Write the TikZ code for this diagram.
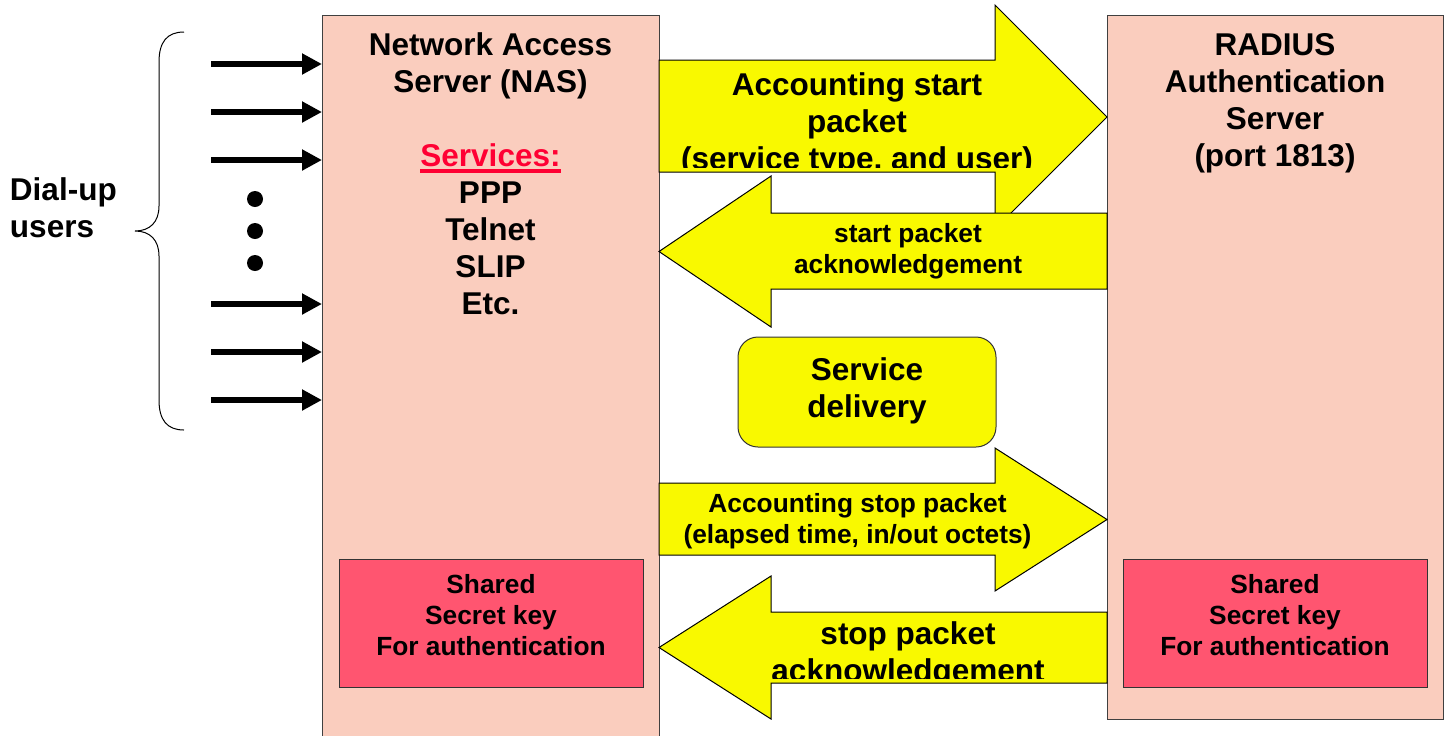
\documentclass[tikz,border=0pt]{standalone}
\usepackage{fontspec}
\setmainfont{Liberation Sans}
\usetikzlibrary{arrows.meta}

\definecolor{serverfill}{HTML}{FACDBE}
\definecolor{keyfill}{HTML}{FF5570}
\definecolor{pktyellow}{HTML}{F9F900}
\definecolor{svcred}{HTML}{FF0033}

\newcommand\bigtext{\bfseries\fontsize{15.75}{18.5}\selectfont}
\newcommand\smalltext{\bfseries\fontsize{13.15}{15.5}\selectfont}
% heavy underline used for the services heading
\newcommand\thickunder[1]{\setbox0\hbox{#1}\rlap{\usebox0}\rule[-3.4pt]{\wd0}{1.7pt}}

\begin{document}
\begin{tikzpicture}[x=0.5pt,y=-0.5pt,
  txt/.style={align=center,inner sep=0pt,outer sep=0pt},
  bigtxt/.style={txt,font=\bigtext},
  smalltxt/.style={txt,font=\smalltext},
  server/.style={draw=black!75,fill=serverfill,line width=0.5pt,anchor=north west,inner sep=0pt,outer sep=0pt},
  keybox/.style={draw=black!80,fill=keyfill,line width=0.5pt,anchor=north west,inner sep=0pt,outer sep=0pt,
                 minimum width=152pt,minimum height=64pt},
  svcbox/.style={draw=black!80,fill=pktyellow,line width=0.5pt,rounded corners=10pt,
                 minimum width=129pt,minimum height=55pt},
  pkt/.style={draw=black,fill=pktyellow,line width=0.5pt,line join=miter},
  usr/.style={line width=2.6pt,-{Triangle[length=10pt,width=10pt]}},
  dot/.style={circle,fill=black,inner sep=0pt,minimum size=8pt},
  brace/.style={line width=0.5pt}
]
\useasboundingbox (0,0) rectangle (1449,735);
\clip (0,0) rectangle (1449,735);

% the two servers
\node[server,minimum width=168.5pt,minimum height=365pt] (nas) at (322,15) {};
\node[server,minimum width=168pt,minimum height=352pt] (radius) at (1107,15) {};

\node[bigtxt] (nastitle) at (490.5,67) {\strut Network Access\\Server (NAS)\strut};
\node[bigtxt] (services) at (490.5,232.6)
  {\strut\textcolor{svcred}{\thickunder{Services:}}\\PPP\\Telnet\\SLIP\\Etc.\strut};
\node[bigtxt] (radtitle) at (1275,103.5) {\strut RADIUS\\Authentication\\Server\\(port 1813)\strut};

% shared secrets
\node[keybox] (naskey) at (339,559) {};
\node[keybox] (radkey) at (1123,559) {};
\node[smalltxt] (naskeytxt) at (491,618) {\strut Shared\\Secret key\\For authentication\strut};
\node[smalltxt] (radkeytxt) at (1275,618) {\strut Shared\\Secret key\\For authentication\strut};

% dial-up users
\node[bigtxt,align=left,anchor=west] (users) at (10,212) {\strut Dial-up\\users\strut};
\draw[brace] (184,32) .. controls (167,32) and (159,42) .. (159,62) -- (159,206)
  .. controls (159,222) and (150,231) .. (135,231)
  .. controls (150,231) and (159,240) .. (159,256) -- (159,400)
  .. controls (159,420) and (167,430) .. (184,430);
\foreach \y [count=\i] in {64,112,160,304,352,400} {
  \coordinate (u\i) at (211,\y);
  \draw[usr] (u\i) -- (u\i -| nas.west);
}
\foreach \y [count=\i] in {199,231,263}
  \node[dot] (dot\i) at (255,\y) {};

% accounting start
\draw[pkt] (659,60) -- (995,60) -- (995,5) -- (1107,117) -- (995,229) -- (995,172) -- (659,172) -- cycle;
\begin{scope}
  \clip (659,0) rectangle (1107,167);
  \node[bigtxt] (startpkt) at (857,125.5) {\strut Accounting start\\packet\\(service type, and user)\strut};
\end{scope}

% start acknowledgement
\draw[pkt] (1107,213) -- (771,213) -- (771,176) -- (659,251.5) -- (771,327) -- (771,289) -- (1107,289) -- cycle;
\node[smalltxt] (startack) at (908,252) {\strut start packet\\acknowledgement\strut};

% service delivery
\node[svcbox,bigtxt] (delivery) at (867,392) {\strut Service\\delivery\strut};

% accounting stop
\draw[pkt] (659,483) -- (995,483) -- (995,448) -- (1107,519.5) -- (995,591) -- (995,555) -- (659,555) -- cycle;
\node[smalltxt] (stoppkt) at (857.5,521.5) {\strut Accounting stop packet\\(elapsed time, in/out octets)\strut};

% stop acknowledgement
\draw[pkt] (1107,612) -- (771,612) -- (771,576) -- (659,647.5) -- (771,719) -- (771,683) -- (1107,683) -- cycle;
\begin{scope}
  \clip (659,600) rectangle (1107,678);
  \node[bigtxt] (stopack) at (908,656) {\strut stop packet\\acknowledgement\strut};
\end{scope}
\end{tikzpicture}
\end{document}
